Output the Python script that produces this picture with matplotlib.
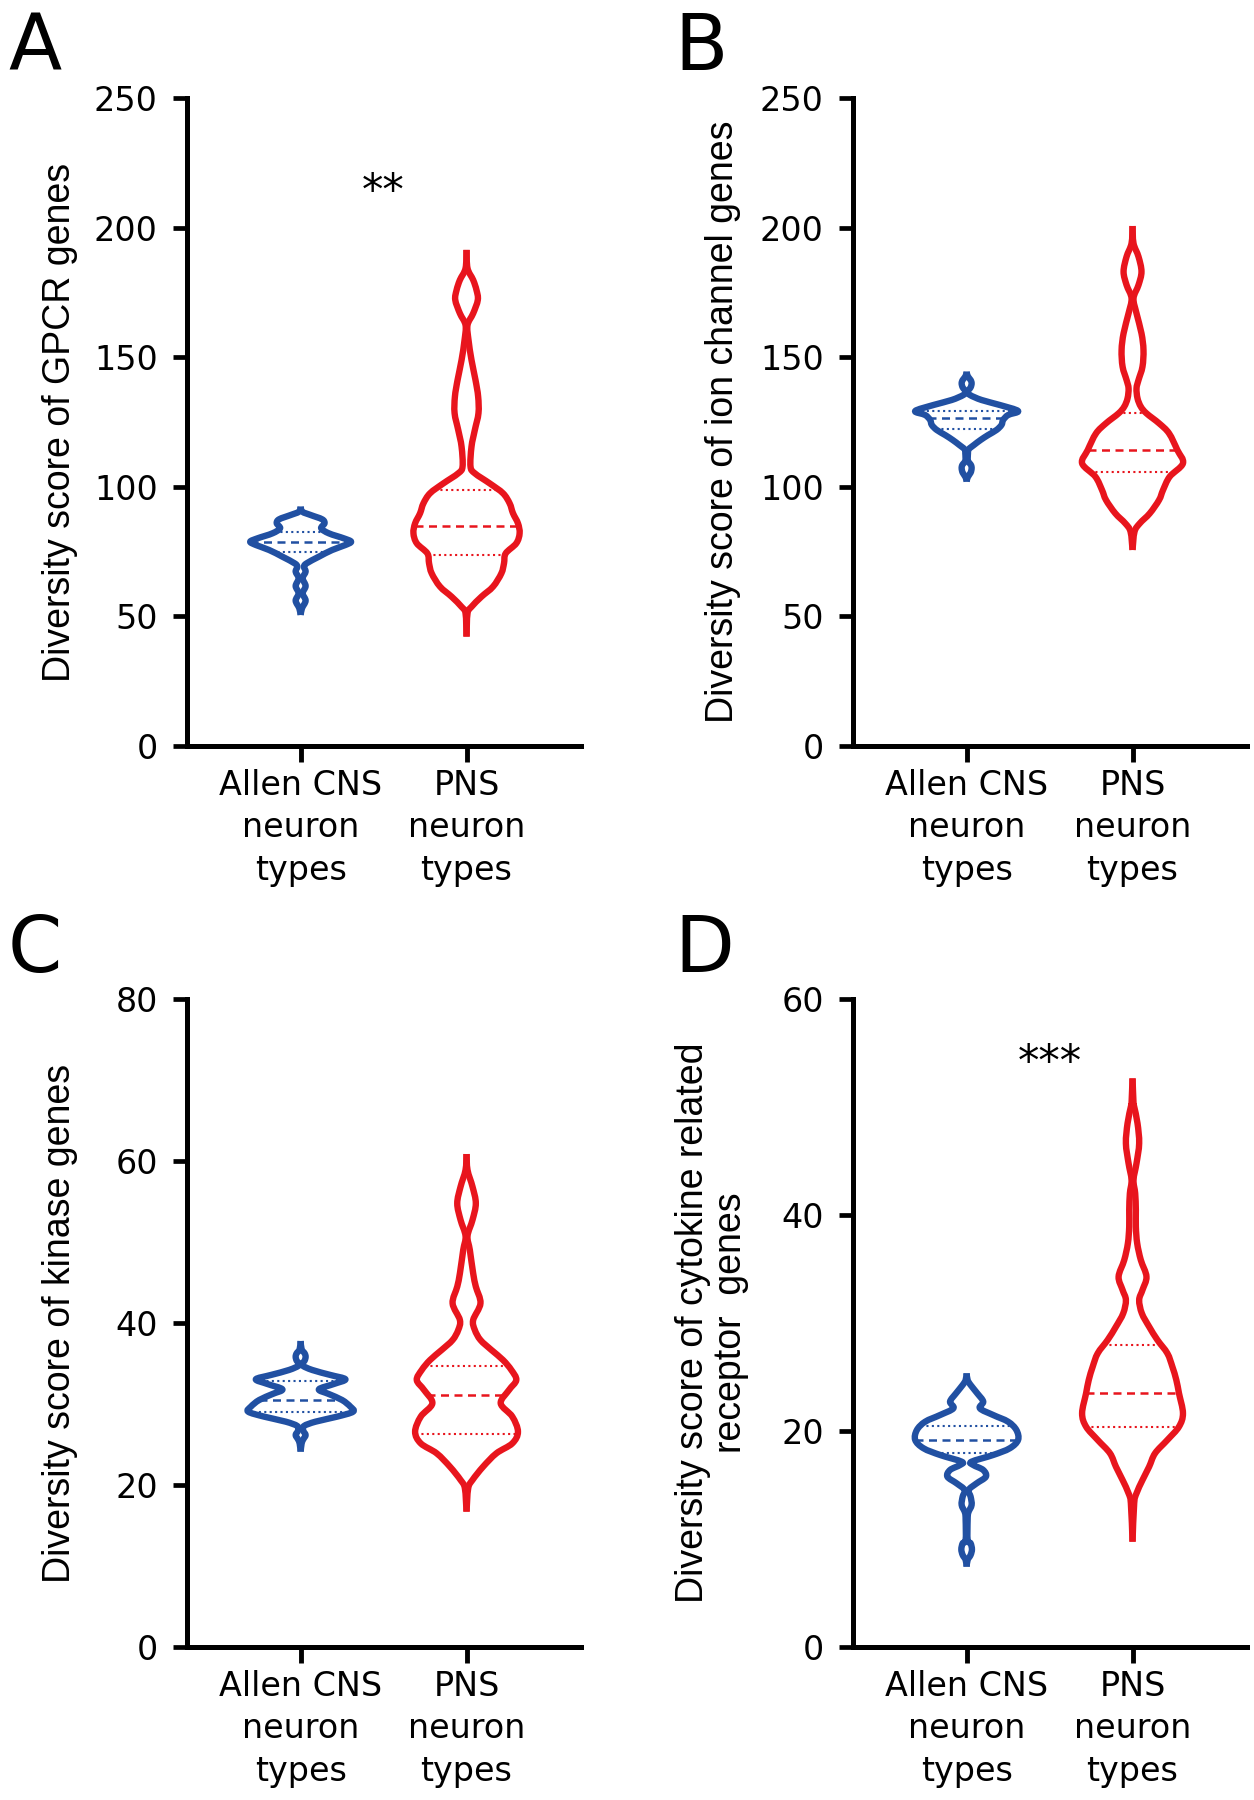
import numpy as np
import matplotlib
matplotlib.use("Agg")
import matplotlib.pyplot as plt
from matplotlib.path import Path
from matplotlib.patches import PathPatch

# ---------------- data ----------------
categories = ["Allen CNS\nneuron\ntypes", "PNS\nneuron\ntypes"]

# Panel A (GPCR)
a_cns_y = [92.34, 90.41, 89.12, 87.45, 85.91, 83.98, 82.05, 80.12, 78.83, 77.55, 75.62, 73.04,
           70.47, 69.19, 67.26, 64.69, 61.73, 58.90, 56.07, 53.11, 50.54]
a_cns_w = [0, 5, 30, 65, 72, 62, 85, 130, 152, 135, 95, 55, 18, 10, 15, 6, 15, 6, 15, 4, 0]
a_cns_q = [75.0, 78.8, 82.7]
a_pns_y = [191.4, 184.3, 179.8, 175.9, 172.1, 166.9, 162.4, 156.6, 148.9, 141.2, 134.8, 128.4,
           121.9, 115.5, 107.8, 105.2, 101.3, 97.5, 93.6, 89.8, 85.9, 82.1, 78.2, 74.3, 70.5,
           66.6, 61.5, 57.6, 53.7, 51.2, 42.2]
a_pns_w = [0, 3, 20, 30, 34, 20, 3, 6, 15, 27, 35, 36, 25, 15, 12, 25, 70, 110, 130, 140, 155,
           160, 150, 118, 113, 105, 80, 45, 15, 3, 0]
a_pns_q = [73.7, 85.0, 98.8]

# Panel B (ion channel)
b_cns_y = [144.42, 142.75, 141.20, 139.92, 138.37, 136.70, 135.42, 133.49, 131.56, 129.24,
           127.70, 125.77, 123.85, 121.92, 119.99, 118.06, 116.13, 114.45, 112.91, 110.08,
           108.41, 107.12, 105.45, 103.65, 101.98]
b_cns_w = [0, 3, 12, 15, 12, 3, 10, 45, 100, 155, 125, 110, 105, 90, 65, 42, 22, 6, 4, 4,
           13, 15, 12, 3, 0]
b_cns_q = [122.2, 126.5, 129.3]
b_pns_y = [200.62, 193.93, 188.79, 183.00, 177.85, 172.71, 166.92, 159.21, 152.78, 146.35,
           141.20, 137.99, 134.13, 130.92, 128.34, 124.49, 120.63, 114.20, 109.05, 103.91,
           98.77, 94.91, 89.76, 85.91, 82.69, 75.62]
b_pns_w = [0, 3, 18, 27, 18, 3, 12, 27, 33, 30, 18, 12, 15, 25, 42, 80, 110, 135, 152, 112,
           92, 80, 52, 22, 6, 0]
b_pns_q = [105.8, 114.2, 128.3]

# Panel C (kinase)
c_cns_y = [37.78, 36.75, 36.26, 35.84, 35.35, 34.81, 34.20, 33.58, 33.05, 32.47, 31.81, 31.23,
           30.49, 29.67, 29.05, 28.44, 27.82, 27.28, 26.71, 26.17, 25.64, 25.14, 24.12]
c_cns_w = [0, 3, 12, 15, 12, 4, 35, 90, 135, 100, 55, 85, 125, 150, 158, 110, 45, 10, 8, 15,
           8, 3, 0]
c_cns_q = [29.05, 30.5, 32.8]
c_pns_y = [60.86, 58.89, 56.83, 54.77, 52.72, 50.74, 49.01, 46.13, 44.49, 42.43, 40.37, 39.14,
           37.90, 36.67, 35.43, 34.20, 32.96, 31.73, 30.08, 28.44, 26.58, 25.14, 23.91, 22.26,
           20.62, 19.59, 16.71]
c_pns_w = [0, 3, 18, 28, 18, 3, 10, 20, 28, 42, 20, 25, 42, 75, 110, 135, 150, 128, 103, 138,
           155, 138, 90, 50, 18, 5, 0]
c_pns_q = [26.3, 31.06, 34.7]

# Panel D (cytokine related receptor)
d_cns_y = [25.34, 24.72, 24.26, 23.49, 22.72, 22.10, 21.48, 20.86, 20.09, 19.17, 18.40, 17.78,
           17.16, 16.85, 16.39, 15.77, 15.15, 14.54, 13.92, 13.15, 12.44, 11.76, 9.91, 9.60,
           9.04, 8.52, 8.06, 7.44]
d_cns_w = [0, 3, 12, 32, 50, 40, 80, 125, 150, 155, 130, 80, 15, 20, 50, 58, 30, 6, 12, 15, 5,
           3, 3, 12, 16, 12, 3, 0]
d_cns_q = [17.93, 19.17, 20.49]
d_pns_y = [52.65, 50.34, 50.03, 48.49, 46.64, 44.79, 43.24, 42.01, 40.46, 38.92, 37.38, 35.83,
           34.29, 33.06, 32.13, 30.90, 29.66, 28.43, 27.19, 25.96, 24.72, 23.49, 21.64, 20.40,
           19.17, 17.94, 16.69, 15.46, 14.23, 13.31, 9.75]
d_pns_w = [0, 3, 5, 15, 20, 12, 3, 8, 10, 10, 14, 25, 42, 30, 20, 28, 50, 75, 105, 120, 132,
           140, 152, 140, 105, 68, 50, 30, 12, 5, 0]
d_pns_q = [20.40, 23.49, 27.97]

y_labels = ["Diversity score of GPCR genes",
            "Diversity score of ion channel genes",
            "Diversity score of kinase genes",
            "Diversity score of cytokine related\nreceptor  genes"]
y_limits = [250, 250, 80, 60]
y_ticks = [[0, 50, 100, 150, 200, 250], [0, 50, 100, 150, 200, 250],
           [0, 20, 40, 60, 80], [0, 20, 40, 60]]
panel_letters = ["A", "B", "C", "D"]
signif = [("**", 0.5, 209), None, None, ("***", 0.5, 53.0)]

# ---------------- style ----------------
BLUE = "#2150A2"
RED = "#E8151D"
W_SCALE = 0.32 / 160.0
LW = 4.6
WIDE = ["DejaVu Sans"]
LABEL = ["Liberation Sans", "DejaVu Sans"]
plt.rcParams["font.family"] = WIDE


def smooth_path(xs, ys):
    pts = np.column_stack([xs, ys])
    p = np.vstack([pts[0], pts, pts[-1]])
    verts = [pts[0]]
    codes = [Path.MOVETO]
    for i in range(1, len(p) - 2):
        p0, p1, p2, p3 = p[i - 1], p[i], p[i + 1], p[i + 2]
        c1 = p1 + (p2 - p0) / 6.0
        c2 = p2 - (p3 - p1) / 6.0
        verts += [c1, c2, p2]
        codes += [Path.CURVE4] * 3
    return Path(np.array(verts), codes)


def draw_violin(ax, pos, ys, ws, q, color):
    ys = np.asarray(ys, float)
    ws = np.asarray(ws, float) * W_SCALE
    for sgn in (1, -1):
        path = smooth_path(pos + sgn * ws, ys)
        ax.add_patch(PathPatch(path, fill=False, edgecolor=color, lw=LW,
                               joinstyle="round", capstyle="butt", zorder=3))
    order = np.argsort(ys)
    for val, ls, lw in zip(q, [(0, (1, 1.6)), (0, (3.2, 2.2)), (0, (1, 1.6))], [1.5, 1.8, 1.5]):
        w = np.interp(val, ys[order], ws[order])
        ax.plot([pos - w, pos + w], [val, val], color=color, lw=lw, ls=ls, zorder=2,
                dash_capstyle="butt")


fig = plt.figure(figsize=(12.54, 18), dpi=100)
W, H = 1254.0, 1800.0
boxes = [(187, 98), (853, 98), (187, 999), (853, 999)]
ax_w, ax_h = 394, 648

data = [
    [(a_cns_y, a_cns_w, a_cns_q), (a_pns_y, a_pns_w, a_pns_q)],
    [(b_cns_y, b_cns_w, b_cns_q), (b_pns_y, b_pns_w, b_pns_q)],
    [(c_cns_y, c_cns_w, c_cns_q), (c_pns_y, c_pns_w, c_pns_q)],
    [(d_cns_y, d_cns_w, d_cns_q), (d_pns_y, d_pns_w, d_pns_q)],
]
label_x = [60, 723, 60, 712]
letter_pos = [(8, 10), (674, 10), (8, 912), (674, 912)]

for k in range(4):
    lx, ty = boxes[k]
    ax = fig.add_axes([lx / W, 1 - (ty + ax_h) / H, ax_w / W, ax_h / H])
    for (ys, ws, q), pos, col in zip(data[k], [0, 1], [BLUE, RED]):
        draw_violin(ax, pos, ys, ws, q, col)
    ax.set_xlim(-0.685, 1.69)
    ax.set_ylim(0, y_limits[k])
    ax.set_yticks(y_ticks[k])
    ax.set_xticks([0, 1])
    ax.set_xticklabels(categories, fontsize=24, linespacing=1.36)
    ax.tick_params(axis="y", direction="out", length=10, width=3.4, labelsize=24, pad=11)
    ax.tick_params(axis="x", direction="out", length=11.5, width=3.5, labelsize=24, pad=5)
    for s in ["top", "right"]:
        ax.spines[s].set_visible(False)
    for s in ["left", "bottom"]:
        ax.spines[s].set_linewidth(3.6)
    if signif[k]:
        txt, sx, sy = signif[k]
        ax.text(sx, sy, txt, ha="center", va="baseline", fontsize=31)
    yc = 1 - (ty + ax_h / 2) / H
    fig.text(label_x[k] / W, yc, y_labels[k], rotation=90, ha="center", va="center",
             fontsize=27, family=LABEL, linespacing=1.05)
    fig.text(letter_pos[k][0] / W, 1 - letter_pos[k][1] / H, panel_letters[k],
             ha="left", va="top", fontsize=56)

fig.savefig("out.png", dpi=100, facecolor="white")
